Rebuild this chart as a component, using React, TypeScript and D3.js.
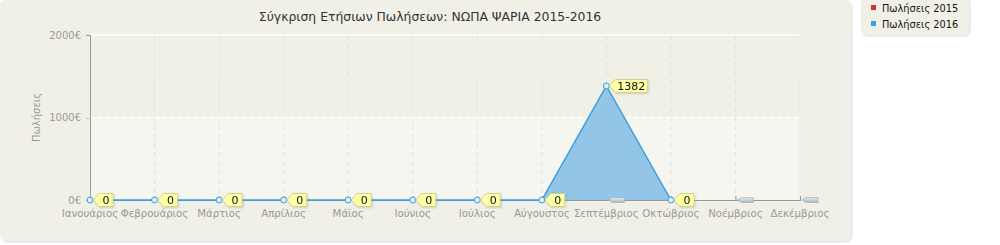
import React from "react";
import * as d3 from "d3";

const months = ["Ιανουάριος","Φεβρουάριος","Μάρτιος","Απρίλιος","Μάϊος","Ιούνιος","Ιούλιος","Αύγουστος","Σεπτέμβριος","Οκτώβριος","Νοέμβριος","Δεκέμβριος"];
const sales2016: (number | null)[] = [0,0,0,0,0,0,0,0,1382,0,null,null];
const sales2015: (number | null)[] = [null,null,null,null,null,null,null,null,null,null,null,null];
const yTicks = [0, 1000, 2000];
const title = "Σύγκριση Ετήσιων Πωλήσεων: ΝΩΠΑ ΨΑΡΙΑ 2015-2016";
const legendItems = [{ label: "Πωλήσεις 2015", color: "#d0342c" }, { label: "Πωλήσεις 2016", color: "#3a9ee0" }];

const FONT = "'DejaVu Sans', Verdana, sans-serif";

export default function App() {
  const W = 1000, H = 245;
  const x = d3.scalePoint<string>().domain(months).range([90, 800]);
  const y = d3.scaleLinear().domain([0, 2000]).range([200, 35]);
  const idx = months.map((_, i) => i);
  const defined = (i: number) => sales2016[i] != null;
  const area = d3.area<number>().defined(defined).x(i => x(months[i])!).y0(y(0)).y1(i => y(sales2016[i] as number));
  const line = d3.line<number>().defined(defined).x(i => x(months[i])!).y(i => y(sales2016[i] as number));
  const emptyLabels = [8, 10, 11];
  return (
    <svg width={W} height={H} style={{ position: "absolute", left: 0, top: 0 }} fontFamily={FONT}>
      <defs>
        <filter id="sh" x="-10%" y="-10%" width="130%" height="140%">
          <feDropShadow dx="1" dy="1" stdDeviation="1" floodColor="#000" floodOpacity="0.15" />
        </filter>
        <linearGradient id="eg" x1="0" y1="0" x2="0" y2="1">
          <stop offset="0" stopColor="#e8eef2" />
          <stop offset="1" stopColor="#a9b5bd" />
        </linearGradient>
      </defs>
      <rect x={0} y={0} width={851} height={241} rx={6} fill="#f1f0e6" filter="url(#sh)" />
      <rect x={x(months[0])} y={y(1000)} width={x(months[11])! - x(months[0])!} height={y(0) - y(1000)} fill="#f6f6f1" />
      {months.map((m, i) => i > 0 && (
        <line key={m} x1={x(m)} x2={x(m)} y1={y(2000)} y2={y(0)} stroke="#e3e3dc" strokeDasharray="5,4" />
      ))}
      {yTicks.filter(t => t > 0).map(t => (
        <line key={t} x1={x(months[0])} x2={x(months[11])} y1={y(t)} y2={y(t)} stroke="#ffffff" strokeWidth={1.5} strokeDasharray={t === 1000 ? "5,3" : undefined} />
      ))}
      <text x={430} y={21} textAnchor="middle" fontSize={12.4} fill="#333">{title}</text>
      <line x1={90.5} x2={90.5} y1={y(2000)} y2={y(0)} stroke="#999" />
      {yTicks.map(t => (
        <g key={t}>
          <line x1={86} x2={90} y1={Math.round(y(t)) + 0.5} y2={Math.round(y(t)) + 0.5} stroke={t === 1000 ? "#ccc" : "#999"} />
          <text x={81} y={y(t) + 3.5} textAnchor="end" fontSize={10} fill="#999">{t}€</text>
        </g>
      ))}
      <text transform={`translate(40,${y(1000)}) rotate(-90)`} textAnchor="middle" fontSize={10} fill="#999">Πωλήσεις</text>
      <line x1={x(months[0])} x2={x(months[11])} y1={200.5} y2={200.5} stroke="#999" />
      {months.map(m => (
        <g key={m}>
          <line x1={x(m)! + 0.5} x2={x(m)! + 0.5} y1={196} y2={201} stroke="#999" />
          <text x={x(m)} y={217} textAnchor="middle" fontSize={10.2} fill="#999">{m}</text>
        </g>
      ))}
      <path d={area(idx) || ""} fill="#93c6e6" />
      <path d={line(idx) || ""} fill="none" stroke="#3a9ee0" strokeWidth={1.5} />
      {idx.filter(defined).map(i => (
        <circle key={i} cx={x(months[i])} cy={y(sales2016[i] as number)} r={3} fill="#dceefa" stroke="#3a9ee0" strokeWidth={1} />
      ))}
      {emptyLabels.map(i => {
        const px = x(months[i])!, py = 200;
        return (
          <polygon key={i} points={`${px + 2},${py} ${px + 6},${py - 2.5} ${px + 18},${py - 2.5} ${px + 18},${py + 2.5} ${px + 6},${py + 2.5}`} fill="url(#eg)" stroke="#9aa6ad" strokeWidth={0.6} />
        );
      })}
      {idx.filter(defined).map(i => {
        const v = sales2016[i] as number;
        const px = x(months[i])!, py = y(v);
        const txt = String(v);
        const tw = txt.length * 6 + 8;
        const bx = px + 9;
        return (
          <g key={i} filter="url(#sh)">
            <polygon points={`${px + 3},${py} ${bx},${py - 6.5} ${bx + tw},${py - 6.5} ${bx + tw},${py + 6.5} ${bx},${py + 6.5}`} fill="#ffffa6" stroke="#c8c88c" strokeWidth={0.8} />
            <text x={bx + tw / 2} y={py + 4} textAnchor="middle" fontSize={11} fill="#111">{txt}</text>
          </g>
        );
      })}
      <rect x={861} y={-3} width={108} height={38} rx={5} fill="#f1f0e6" filter="url(#sh)" />
      {legendItems.map((l, i) => (
        <g key={l.label}>
          <rect x={871} y={5 + i * 16} width={5} height={5} fill={l.color} />
          <text x={882} y={11.5 + i * 16} fontSize={9.8} fill="#111">{l.label}</text>
        </g>
      ))}
      {sales2015.length === 0 && null}
    </svg>
  );
}
